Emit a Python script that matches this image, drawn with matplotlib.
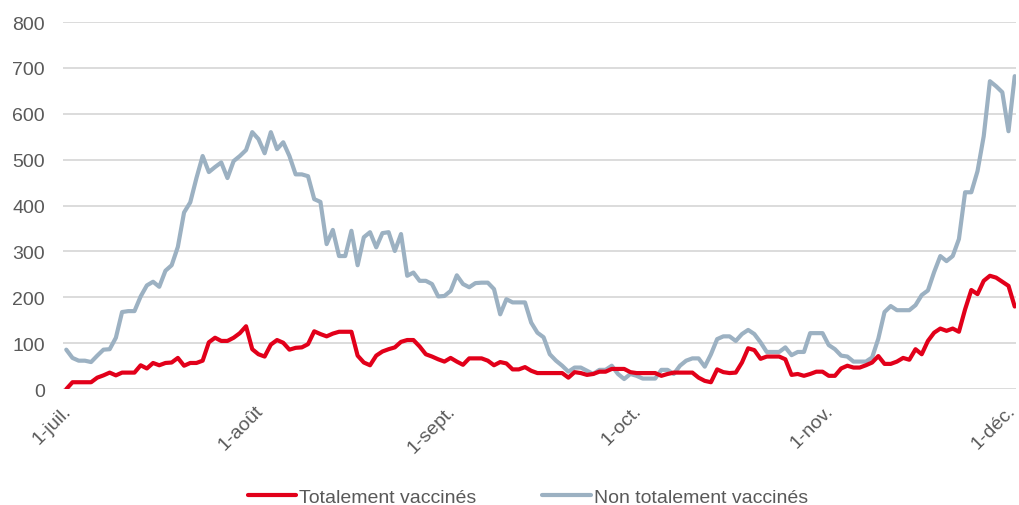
import matplotlib
matplotlib.use("Agg")
import matplotlib.pyplot as plt
import matplotlib.transforms as mtransforms
import numpy as np

plt.rcParams['font.family'] = ['Liberation Sans', 'DejaVu Sans']

# Daily values from 1 July (day 0) to 1 December (day 153)
totalement_vaccines = [
    0, 15, 15, 15, 15, 25, 30, 36, 30, 36,
    36, 36, 52, 45, 57, 52, 57, 58, 68, 51,
    57, 57, 62, 102, 112, 105, 105, 112, 122, 137,
    87, 76, 71, 97, 107, 101, 86, 90, 91, 98,
    126, 120, 115, 121, 125, 125, 125, 73, 58, 52,
    73, 82, 87, 91, 103, 107, 107, 93, 76, 71,
    65, 60, 68, 60, 53, 67, 67, 67, 62, 52,
    59, 56, 43, 43, 48, 40, 35, 35, 35, 35,
    35, 25, 37, 35, 31, 33, 38, 38, 44, 44,
    44, 37, 35, 35, 35, 35, 29, 33, 36, 36,
    36, 36, 25, 18, 15, 43, 37, 35, 36, 58,
    89, 85, 66, 71, 71, 71, 65, 31, 33, 29,
    33, 38, 38, 29, 29, 45, 51, 47, 47, 52,
    58, 72, 55, 55, 60, 68, 64, 87, 76, 105,
    123, 132, 127, 132, 125, 174, 216, 207, 236, 247,
    243, 234, 225, 180,
]

non_totalement_vaccines = [
    86, 68, 62, 62, 59, 73, 86, 87, 112, 168,
    170, 170, 202, 226, 234, 223, 258, 270, 310, 385,
    407, 460, 508, 473, 484, 494, 460, 497, 508, 521,
    560, 545, 514, 560, 523, 538, 508, 468, 468, 464,
    414, 408, 316, 347, 290, 290, 345, 270, 331, 342,
    309, 340, 342, 301, 338, 247, 254, 236, 236, 229,
    202, 203, 214, 248, 229, 222, 231, 232, 232, 218,
    163, 196, 189, 189, 189, 145, 123, 113, 76, 62,
    51, 38, 47, 47, 40, 33, 42, 42, 51, 33,
    22, 33, 29, 23, 23, 23, 42, 42, 33, 51,
    62, 67, 67, 49, 76, 109, 115, 115, 105, 120,
    129, 120, 102, 81, 81, 81, 91, 74, 81, 81,
    122, 122, 122, 96, 87, 73, 71, 60, 60, 60,
    69, 110, 168, 181, 172, 172, 172, 183, 205, 215,
    255, 290, 279, 290, 327, 429, 429, 475, 551, 671,
    660, 647, 562, 682,
]

tick_days = [0, 31, 62, 92, 123, 153]
tick_labels = ["1-juil.", "1-août", "1-sept.", "1-oct.", "1-nov.", "1-déc."]
y_ticks = [0, 100, 200, 300, 400, 500, 600, 700, 800]

days = np.arange(len(totalement_vaccines))

fig = plt.figure(figsize=(10.19, 5.06), dpi=100)
ax = fig.add_axes([0.062, 0.229, 0.935, 0.7255])

ax.plot(days, totalement_vaccines, color="#E2001A", lw=3.0,
        solid_joinstyle="round", solid_capstyle="round", label="Totalement vaccinés", zorder=3)
ax.plot(days, non_totalement_vaccines, color="#9CB1C2", lw=3.0,
        solid_joinstyle="round", solid_capstyle="round", label="Non totalement vaccinés", zorder=2)

ax.set_xlim(-0.5, 153.2)
ax.set_ylim(0, 800)
ax.set_yticks(y_ticks)
ax.set_xticks(tick_days)
ax.set_xticklabels(tick_labels, rotation=45, ha="right", va="top", rotation_mode="anchor")
ax.grid(axis="y", color="#D9D9D9", lw=1.3)
ax.set_axisbelow(True)
for s in ax.spines.values():
    s.set_visible(False)
ax.tick_params(axis="both", length=0, labelsize=14, colors="#595959")
ax.tick_params(axis="x", pad=9)
ax.tick_params(axis="y", pad=13)
for lbl in ax.get_yticklabels():
    lbl.set_horizontalalignment("right")
xlabels = ax.get_xticklabels()
for i, lbl in enumerate(xlabels):
    dx = -3 if i < len(xlabels) - 1 else -6
    offset = mtransforms.ScaledTranslation(dx / 72, 0, fig.dpi_scale_trans)
    lbl.set_transform(lbl.get_transform() + offset)

leg = fig.legend(loc="lower center", bbox_to_anchor=(0.518, -0.037), ncol=2, frameon=False,
                 fontsize=14, handlelength=2.5, handletextpad=0.15, columnspacing=3.4)
for t in leg.get_texts():
    t.set_color("#595959")

fig.savefig("out.png", dpi=100)
